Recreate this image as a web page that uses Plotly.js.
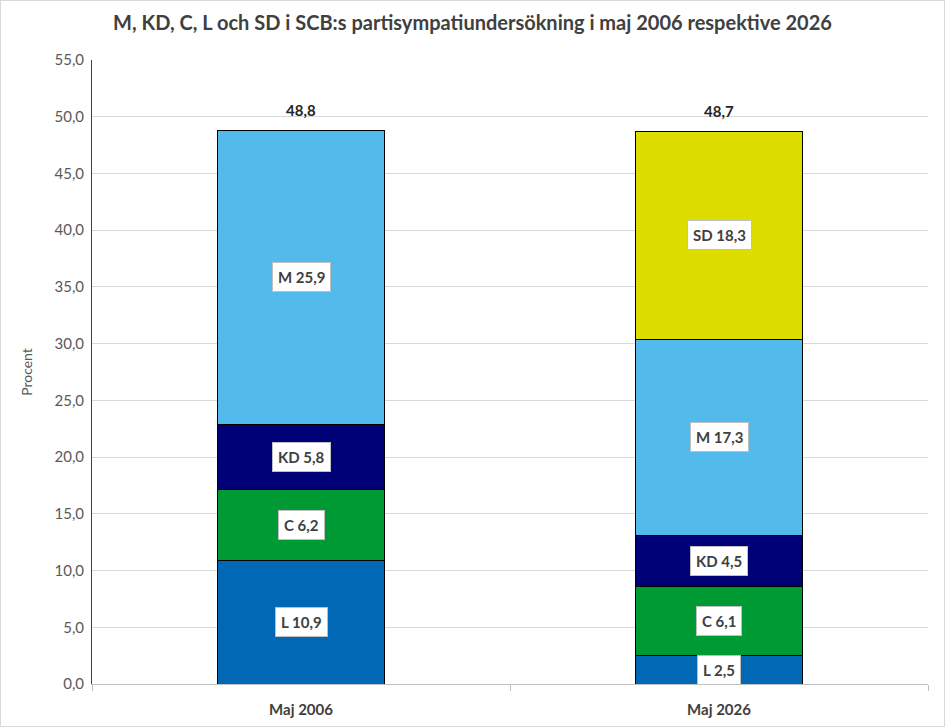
<!DOCTYPE html>
<html><head><meta charset="utf-8">
<script src="https://cdn.plot.ly/plotly-3.0.1.min.js"></script>
<style>html,body{margin:0;padding:0;background:#fff}#chart{width:943px;height:725px;border:1px solid #d9d9d9}</style>
</head><body><div id="chart"></div>
<script>
const categories = ["Maj 2006", "Maj 2026"];
const parties = ["L", "C", "KD", "M", "SD"];
const L = [10.9, 2.5];
const C = [6.2, 6.1];
const KD = [5.8, 4.5];
const M = [25.9, 17.3];
const SD = [0, 18.3];
const totals = [48.8, 48.7];
const colors = ["#0068b4", "#009a35", "#000077", "#52bbeb", "#dddd00"];
const series = [L, C, KD, M, SD];

const fontFam = "Lato, 'DejaVu Sans Condensed', sans-serif";
const traces = series.map((vals, i) => ({
  type: "bar", name: parties[i], x: categories, y: vals,
  marker: {color: colors[i], line: {color: "#000", width: 1}},
  hoverinfo: "skip"
}));

const annotations = [];
categories.forEach((cat, ci) => {
  let base = 0;
  series.forEach((vals, si) => {
    const v = vals[ci];
    if (v > 0) {
      annotations.push({
        x: cat, y: base + v / 2, xref: "x", yref: "y",
        text: parties[si] + " " + v.toFixed(1).replace(".", ","),
        showarrow: false, bgcolor: "#fff", bordercolor: "#bfbfbf", borderwidth: 1, borderpad: 5,
        font: {family: fontFam, size: 15, color: "#404040", weight: "bold"}
      });
    }
    base += v;
  });
  annotations.push({
    x: cat, y: totals[ci], xref: "x", yref: "y", yanchor: "bottom", yshift: 9,
    text: totals[ci].toFixed(1).replace(".", ","), showarrow: false,
    font: {family: fontFam, size: 15, color: "#262626", weight: "bold"}
  });
});

const layout = {
  width: 943, height: 725,
  margin: {l: 91, r: 16, t: 59, b: 42},
  barmode: "stack", bargap: 0.6,
  separators: ", ",
  showlegend: false,
  paper_bgcolor: "#fff", plot_bgcolor: "#fff",
  title: {text: "M, KD, C, L och SD i SCB:s partisympatiundersökning i maj 2006 respektive 2026",
    x: 0.5, xanchor: "center", y: 0.97, yanchor: "middle",
    font: {family: fontFam, size: 20, color: "#404040", weight: "bold"}},
  xaxis: {type: "category", showline: true, linecolor: "#bfbfbf", linewidth: 1,
    ticks: "outside", tickson: "boundaries", ticklen: 6, tickcolor: "#bfbfbf",
    ticklabelstandoff: 12,
    tickfont: {family: fontFam, size: 15, color: "#404040", weight: "bold"}, showgrid: false},
  yaxis: {range: [0, 55], dtick: 5, tickformat: ".1f", showgrid: true, gridcolor: "#d9d9d9",
    showline: true, linecolor: "#404040", linewidth: 1, zeroline: false, ticks: "",
    ticklabelstandoff: 4,
    tickfont: {family: fontFam, size: 15, color: "#595959"},
    title: {text: "Procent", standoff: 18, font: {family: fontFam, size: 14, color: "#595959"}}},
  annotations: annotations
};
Plotly.newPlot("chart", traces, layout, {displayModeBar: false, staticPlot: true});
</script></body></html>
